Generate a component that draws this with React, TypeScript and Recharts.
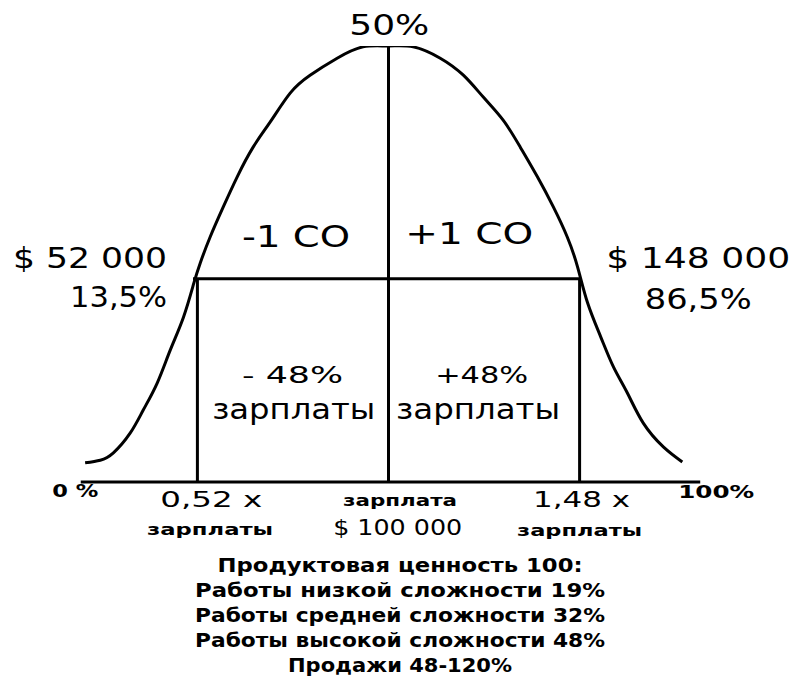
import React from 'react';
import { ComposedChart, Line, XAxis, YAxis, ReferenceLine, ReferenceDot } from 'recharts';

// salary in thousands of $, curve height in % of the peak
const salaryLeft = [23.8, 27.6, 30.9, 35.1, 38.4, 41.9, 45.2, 48.5, 51.1, 52.7, 55.2, 58.5, 62.0, 66.0, 70.3, 75.3, 80.3, 87.1, 93.6, 100];
const heightLeft = [4.4, 5.0, 6.7, 11.2, 16.5, 22.7, 30.3, 37.8, 45.6, 50.2, 56.2, 63.1, 70.0, 76.8, 82.6, 89.2, 93.3, 97.2, 99.8, 100];
const salaryRight = [106.2, 113.0, 118.8, 123.8, 128.8, 133.1, 137.4, 141.4, 144.9, 147.5, 150.0, 153.3, 156.5, 160.0, 164.0, 169.1, 173.8];
const heightRight = [99.8, 97.2, 93.3, 88.3, 83.0, 76.8, 70.0, 63.1, 56.2, 49.3, 41.1, 33.3, 26.4, 20.4, 13.5, 8.0, 4.6];

const mean = 100;
const sdLow = 52;
const sdHigh = 148;
const sdLevel = 46.6;
const axisStart = 22.7;
const axisEnd = 178.3;

const sideLabels = ['$ 52 000', '13,5%', '$ 148 000', '86,5%'];
const sdLabels = ['-1 CO', '+1 CO'];
const shareLabels = ['- 48%', '+48%', 'зарплаты'];
const axisLabels = ['0 %', '100%', '0,52 x', '1,48 x', 'зарплаты', 'зарплата', '$ 100 000'];
const captionLines = [
  'Продуктовая ценность 100:',
  'Работы низкой сложности 19%',
  'Работы средней сложности 32%',
  'Работы высокой сложности 48%',
  'Продажи 48-120%',
];

const curve = [
  ...salaryLeft.map((x, i) => ({ x, y: heightLeft[i] })),
  ...salaryRight.map((x, i) => ({ x, y: heightRight[i] })),
];

const FONT = '"DejaVu Sans", Verdana, sans-serif';

interface Note {
  text: string;
  x: number;
  y: number;
  size: number;
  width: number;
  bold?: boolean;
}

const App: React.FC = () => {
  const notes: Note[] = [
    { text: '50%', x: 100.2, y: 102.5, size: 28, width: 80 },
    { text: sideLabels[0], x: 25.0, y: 49.1, size: 29, width: 154 },
    { text: sideLabels[1], x: 32.2, y: 40.1, size: 29, width: 97 },
    { text: sideLabels[2], x: 177.8, y: 49.1, size: 29, width: 184 },
    { text: sideLabels[3], x: 177.8, y: 39.7, size: 29, width: 107 },
    { text: sdLabels[0], x: 76.8, y: 53.9, size: 30, width: 108 },
    { text: sdLabels[1], x: 120.3, y: 54.6, size: 30, width: 128 },
    { text: shareLabels[0], x: 75.9, y: 22.7, size: 23, width: 101 },
    { text: shareLabels[2], x: 76.2, y: 14.4, size: 28, width: 163 },
    { text: shareLabels[1], x: 123.4, y: 22.7, size: 23, width: 93 },
    { text: shareLabels[2], x: 122.5, y: 14.4, size: 28, width: 164 },
    { text: axisLabels[0], x: 21.3, y: -3.4, size: 17, width: 46, bold: true },
    { text: axisLabels[1], x: 182.3, y: -3.7, size: 17, width: 76, bold: true },
    { text: axisLabels[2], x: 55.5, y: -5.7, size: 21, width: 102 },
    { text: axisLabels[4], x: 55.2, y: -12.2, size: 16, width: 126, bold: true },
    { text: axisLabels[5], x: 102.9, y: -5.5, size: 16, width: 114, bold: true },
    { text: axisLabels[6], x: 102.3, y: -12.2, size: 22, width: 129 },
    { text: axisLabels[3], x: 148.5, y: -5.7, size: 21, width: 97 },
    { text: axisLabels[4], x: 148.0, y: -12.4, size: 16, width: 125, bold: true },
    { text: captionLines[0], x: 102.9, y: -20.6, size: 20, width: 365, bold: true },
    { text: captionLines[1], x: 102.9, y: -26.4, size: 20, width: 410, bold: true },
    { text: captionLines[2], x: 102.9, y: -32.1, size: 20, width: 410, bold: true },
    { text: captionLines[3], x: 102.9, y: -37.8, size: 20, width: 410, bold: true },
    { text: captionLines[4], x: 102.9, y: -43.6, size: 20, width: 224, bold: true },
  ];

  const line = { stroke: '#000', strokeWidth: 3, ifOverflow: 'visible' as const };

  return (
    <div style={{ position: 'fixed', left: 0, top: 0, width: 794, height: 679, background: '#fff' }}>
      <ComposedChart
        width={794}
        height={679}
        data={curve}
        margin={{ top: 46, right: 87, left: 70, bottom: 197 }}
      >
        <XAxis dataKey="x" type="number" domain={[20, 180]} allowDataOverflow hide />
        <YAxis type="number" domain={[0, 100]} allowDataOverflow hide />

        <ReferenceLine segment={[{ x: axisStart, y: 0 }, { x: axisEnd, y: 0 }]} {...line} />
        <ReferenceLine segment={[{ x: mean, y: 0 }, { x: mean, y: 100 }]} {...line} />
        <ReferenceLine segment={[{ x: sdLow, y: 0 }, { x: sdLow, y: sdLevel }]} {...line} />
        <ReferenceLine segment={[{ x: sdHigh, y: 0 }, { x: sdHigh, y: sdLevel }]} {...line} />
        <ReferenceLine segment={[{ x: 50.9, y: sdLevel }, { x: 148.2, y: sdLevel }]} {...line} />

        <Line
          dataKey="y"
          type="natural"
          stroke="#000"
          strokeWidth={3}
          dot={false}
          activeDot={false}
          isAnimationActive={false}
        />

        {notes.map((n, i) => (
          <ReferenceDot
            key={i}
            x={n.x}
            y={n.y}
            r={1}
            fill="none"
            stroke="none"
            ifOverflow="visible"
            label={{
              content: (p: any) => {
                const vb = p.viewBox || {};
                const cx = (vb.x ?? 0) + (vb.width ?? 0) / 2;
                const cy = (vb.y ?? 0) + (vb.height ?? 0) / 2;
                return (
                  <text
                    x={cx}
                    y={cy}
                    textAnchor="middle"
                    fontFamily={FONT}
                    fontSize={n.size}
                    fontWeight={n.bold ? 'bold' : 'normal'}
                    fill="#000"
                    textLength={n.width}
                    lengthAdjust="spacingAndGlyphs"
                  >
                    {n.text}
                  </text>
                );
              },
            }}
          />
        ))}
      </ComposedChart>
    </div>
  );
};

export default App;
